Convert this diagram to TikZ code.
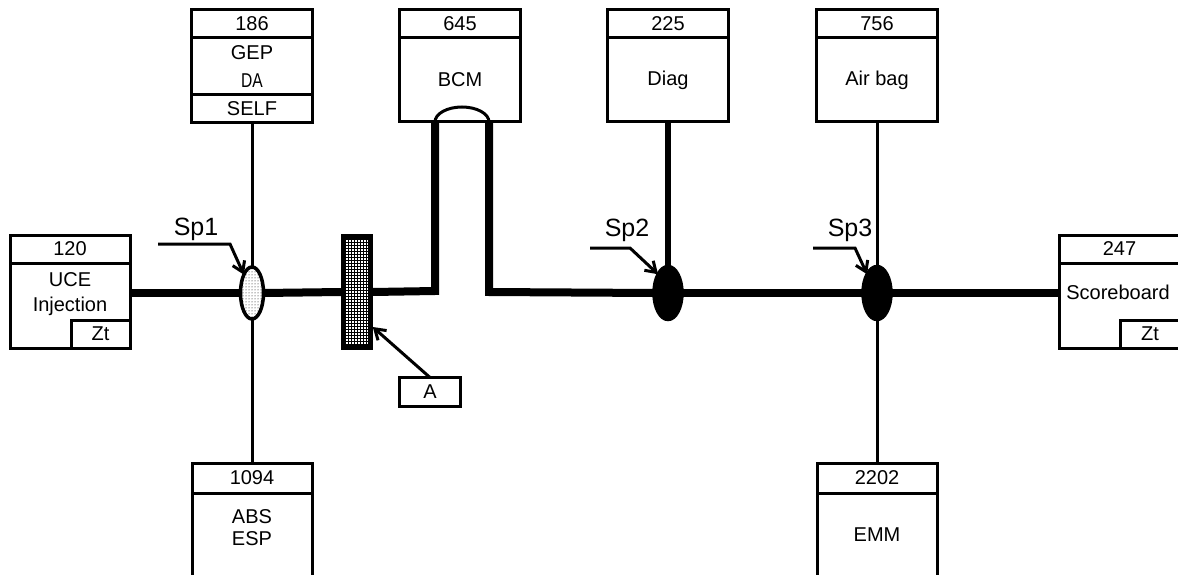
\documentclass[tikz,border=0pt]{standalone}
\usepackage{fontspec}
\usepackage{graphicx}
\setmainfont{Liberation Sans}
\usetikzlibrary{shapes.geometric,patterns,arrows.meta}

\begin{document}
\begin{tikzpicture}[
    x=1pt, y=-1pt,
    box/.style={draw=black, line width=3pt, inner sep=0pt, outer sep=0pt, minimum width=121pt, font=\fontsize{20}{25}\selectfont, align=center},
    hdr/.style={box, minimum height=28pt},
    txt/.style={box, draw=none},
    splice/.style={ellipse, draw=black, line width=3.5pt, inner sep=0pt, outer sep=0pt, minimum width=28pt, minimum height=53pt},
    bus/.style={line width=8pt},
    wire/.style={line width=3pt},
    lead/.style={line width=3pt, -{Straight Barb[length=10pt,width=13pt]}},
    lbl/.style={font=\fontsize{25}{27}\selectfont}
]
\useasboundingbox (0,0) rectangle (1178,575);

% top units
\node[hdr, anchor=north] (h186) at (252,10) {186};
\node[box, anchor=north, minimum height=57pt] (b186) at (h186.south) {GEP\\[3pt]\scalebox{0.78}[1]{DA}};
\node[hdr, anchor=north] (s186) at (b186.south) {SELF};

\node[hdr, anchor=north] (h645) at (460,10) {645};
\node[box, anchor=north, minimum height=84pt] (b645) at (h645.south) {BCM};

\node[hdr, anchor=north] (h225) at (668,10) {225};
\node[box, anchor=north, minimum height=84pt] (b225) at (h225.south) {Diag};

\node[hdr, anchor=north] (h756) at (877,10) {756};
\node[box, anchor=north, minimum height=84pt] (b756) at (h756.south) {Air bag};

% side units
\node[hdr, anchor=north, minimum width=120pt] (h120) at (70,235) {120};
\node[box, anchor=north, minimum width=120pt, minimum height=85pt] (b120) at (h120.south) {};
\node[hdr, anchor=south east, minimum width=59pt] (z120) at (b120.south east) {Zt};
\node[txt] (t120) at (70,294) {UCE\\Injection};

\node[hdr, anchor=north] (h247) at (1119.5,235) {247};
\node[box, anchor=north, minimum height=85pt] (b247) at (h247.south) {};
\node[hdr, anchor=south east, minimum width=60pt] (z247) at (b247.south east) {Zt};
\node[txt] (t247) at (1118,292) {Scoreboard};

% bottom units
\node[hdr, anchor=north, minimum width=120pt, minimum height=30pt] (h1094) at (252,463) {1094};
\node[box, anchor=north, minimum width=120pt, minimum height=100pt] (b1094) at (h1094.south) {};
\node[txt, font=\fontsize{20}{22}\selectfont] (t1094) at (252,528) {ABS\\ESP};

\node[hdr, anchor=north, minimum width=120pt, minimum height=30pt] (h2202) at (877,463) {2202};
\node[box, anchor=north, minimum width=120pt, minimum height=100pt] (b2202) at (h2202.south) {};
\node[txt] (t2202) at (877,535) {EMM};

% splices and connector A
\node[splice, minimum width=23pt, minimum height=52pt, pattern=dots] (sp1) at (252,293) {};
\node[splice, fill=black] (sp2) at (668,293) {};
\node[splice, fill=black] (sp3) at (877,293) {};

\node[draw=black, line width=4.5pt, inner sep=0pt, minimum width=27pt, minimum height=111pt, pattern=grid] (blkA) at (357,292) {};
\node[hdr, minimum width=61pt, minimum height=29pt] (tagA) at (430,392) {A};

\coordinate (lpL) at (435,291);
\coordinate (lpR) at (489,292);

% bus
\draw[bus] (b120.east |- sp1) -- (sp1.west);
\draw[bus] (sp1.east) -- (blkA.west);
\draw[bus] (blkA.east) -- (lpL) -- (lpL |- b645.south);
\draw[wire] (lpL |- b645.south) arc[start angle=180, end angle=0, x radius=27pt, y radius=15pt];
\draw[bus] (lpR |- b645.south) -- (lpR) -- (sp2.west);
\draw[bus] (sp2.east) -- (sp3.west);
\draw[bus] (sp3.east) -- (b247.west |- sp3);

% branches
\draw[wire] (s186.south) -- (sp1.north);
\draw[wire] (sp1.south) -- (h1094.north);
\draw[line width=6.5pt] (b225.south) -- (sp2.north);
\draw[wire] (b756.south) -- (sp3.north);
\draw[wire] (sp3.south) -- (h2202.north);

% labels
\node[lbl] (l1) at (196,229) {Sp1};
\coordinate (l1s) at (158,244);
\draw[lead] (l1s) -- ++(72,0) -- (sp1.north west);

\node[lbl] (l2) at (627,230) {Sp2};
\coordinate (l2s) at (590,248);
\draw[lead] (l2s) -- ++(40,0) -- (sp2.north west);

\node[lbl] (l3) at (850,230) {Sp3};
\coordinate (l3s) at (813,248);
\draw[lead] (l3s) -- ++(42,0) -- (sp3.north west);

\draw[lead] (tagA.north) -- ([yshift=-35pt]blkA.east);

\end{tikzpicture}
\end{document}
